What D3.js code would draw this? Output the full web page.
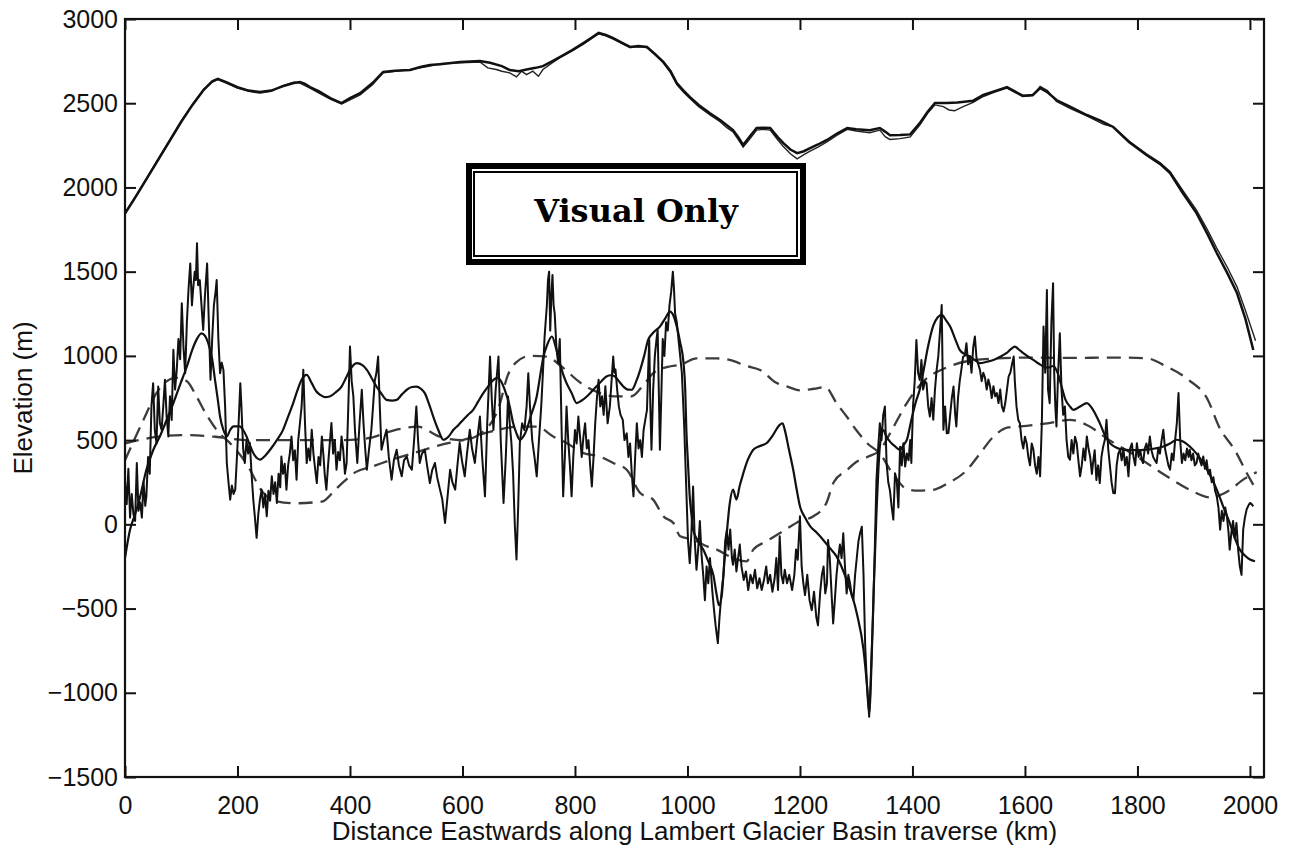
<!DOCTYPE html>
<html>
<head>
<meta charset="utf-8">
<script src="https://cdn.jsdelivr.net/npm/d3@7"></script>
<style>
  body { margin: 0; background: #fff; }
  .chart text { font-family: "Liberation Sans", Arial, Helvetica, sans-serif; fill: #111; }
</style>
</head>
<body>
<div class="chart"></div>
<script>
// Lambert Glacier Basin traverse profile

// x tick labels (km) and y tick labels (m)
var xTicks = [0, 200, 400, 600, 800, 1000, 1200, 1400, 1600, 1800, 2000];
var yTicks = [-1500, -1000, -500, 0, 500, 1000, 1500, 2000, 2500, 3000];

// ice surface elevation, [km, m] (heavy line)
var surfaceA = [
  [0,1845],[20,1950],[40,2060],[60,2170],[80,2280],[100,2390],[120,2490],[140,2580],[155,2630],[165,2645],
  [180,2625],[200,2595],[220,2575],[240,2567],[260,2575],[280,2600],[300,2620],[311,2626],[320,2615],[329,2596],
  [345,2570],[365,2530],[385,2501],[400,2530],[418,2560],[440,2620],[459,2686],[480,2693],[507,2697],[525,2715],
  [542,2727],[560,2732],[596,2745],[631,2751],[649,2740],[670,2720],[684,2697],[700,2690],[714,2700],[730,2710],
  [743,2720],[760,2750],[773,2774],[795,2815],[815,2857],[830,2890],[842,2917],[855,2905],[868,2887],[883,2860],
  [898,2834],[913,2840],[928,2834],[943,2790],[957,2745],[970,2690],[981,2620],[993,2575],[1004,2537],[1020,2490],
  [1040,2440],[1058,2400],[1070,2370],[1081,2341],[1090,2300],[1099,2252],[1110,2300],[1123,2353],[1135,2355],[1147,2353],
  [1160,2300],[1170,2264],[1183,2225],[1195,2204],[1207,2215],[1218,2234],[1232,2255],[1248,2282],[1266,2320],[1284,2353],
  [1300,2345],[1324,2340],[1342,2353],[1352,2330],[1360,2310],[1378,2311],[1396,2315],[1413,2382],[1427,2450],[1440,2501],
  [1461,2501],[1480,2505],[1508,2515],[1526,2549],[1545,2570],[1568,2596],[1582,2570],[1596,2545],[1614,2549],[1627,2590],
  [1640,2565],[1656,2519],[1680,2480],[1710,2430],[1735,2395],[1757,2359],[1785,2270],[1816,2193],[1840,2140],[1858,2086],
  [1880,1970],[1905,1848],[1925,1720],[1941,1611],[1960,1490],[1977,1373],[1992,1220],[2006,1035]
];

// ice surface elevation, second profile (thin line)
var surfaceB = [
  [0,1850],[20,1955],[40,2065],[60,2175],[80,2285],[100,2395],[120,2495],[140,2585],[155,2625],[165,2640],
  [180,2620],[200,2590],[220,2570],[240,2560],[260,2570],[280,2605],[300,2625],[311,2620],[320,2605],[329,2590],
  [345,2560],[365,2525],[385,2495],[400,2520],[418,2550],[440,2610],[459,2680],[480,2690],[507,2700],[525,2710],
  [542,2720],[560,2735],[596,2740],[631,2745],[645,2710],[660,2700],[670,2690],[684,2680],[696,2656],[705,2690],
  [714,2670],[725,2690],[735,2660],[743,2700],[760,2740],[773,2770],[795,2810],[815,2850],[830,2885],[842,2912],
  [855,2900],[868,2880],[883,2855],[898,2830],[913,2835],[928,2830],[943,2785],[957,2740],[970,2680],[981,2610],
  [993,2565],[1004,2530],[1020,2480],[1040,2430],[1058,2390],[1070,2355],[1081,2330],[1090,2285],[1099,2240],[1110,2285],
  [1123,2340],[1135,2345],[1147,2340],[1160,2285],[1170,2245],[1183,2200],[1195,2170],[1207,2195],[1218,2215],[1232,2240],
  [1248,2270],[1266,2310],[1284,2345],[1300,2335],[1324,2325],[1342,2340],[1352,2300],[1360,2285],[1378,2290],[1396,2300],
  [1413,2370],[1427,2440],[1440,2490],[1455,2480],[1465,2460],[1475,2455],[1490,2480],[1508,2505],[1526,2540],[1545,2565],
  [1568,2590],[1582,2565],[1596,2540],[1614,2545],[1627,2600],[1640,2575],[1656,2510],[1680,2470],[1710,2425],[1725,2400],
  [1740,2375],[1757,2360],[1785,2275],[1816,2200],[1840,2148],[1858,2095],[1880,1985],[1905,1865],[1925,1745],[1941,1640],
  [1960,1525],[1977,1410],[1992,1270],[2010,1090]
];

// bedrock elevation from radar, [km, m] (noisy line)
var bedRadar = [
  [0,260],[3,120],[6,330],[9,40],[12,180],[15,60],[18,20],[21,364],[24,80],[27,130],[30,40],[33,250],[36,110],[38,166],
  [41,400],[44,300],[47,700],[50,838],[53,560],[56,480],[59,818],[62,600],[65,561],[68,700],[71,858],[74,640],[77,522],
  [80,760],[83,620],[86,1036],[89,800],[92,917],[95,1100],[98,980],[101,1312],[104,1050],[107,897],[110,1200],[113,1400],
  [116,1549],[119,1300],[121,1391],[124,1500],[126,1450],[128,1668],[130,1420],[133,1450],[136,1300],[139,1154],[142,1350],
  [146,1549],[149,1200],[152,858],[155,1100],[158,1300],[161,1380],[163,1450],[166,1100],[169,897],[172,960],[175,917],
  [178,700],[181,364],[184,250],[187,146],[190,230],[193,180],[196,206],[199,400],[202,600],[205,838],[207,700],[210,450],
  [213,364],[216,500],[219,420],[222,483],[225,300],[228,150],[231,40],[234,-80],[237,60],[240,150],[243,206],[246,100],
  [249,180],[252,48],[255,200],[258,140],[261,285],[264,180],[267,250],[270,127],[273,300],[276,220],[278,403],[281,300],
  [284,360],[287,206],[290,350],[293,420],[296,522],[299,380],[302,440],[305,265],[308,500],[311,600],[314,700],[317,917],
  [320,600],[323,364],[326,450],[329,380],[332,561],[335,420],[338,330],[341,245],[344,400],[347,350],[350,522],[353,400],
  [355,300],[358,206],[361,350],[364,480],[367,601],[370,420],[373,500],[376,324],[379,430],[382,380],[385,522],[388,440],
  [391,300],[394,364],[397,700],[400,1055],[403,850],[406,759],[409,550],[413,364],[417,600],[421,799],[424,600],[427,450],
  [430,324],[434,450],[438,561],[441,700],[444,850],[447,900],[450,996],[453,700],[456,443],[460,500],[465,561],[469,400],
  [474,265],[478,380],[483,443],[487,350],[492,285],[496,380],[501,403],[505,350],[510,324],[514,500],[518,700],[521,500],
  [524,364],[528,420],[533,443],[537,350],[542,245],[546,320],[551,364],[555,280],[560,206],[564,150],[569,8],[573,150],
  [578,324],[582,250],[587,206],[591,350],[595,483],[599,380],[604,285],[608,420],[613,561],[617,450],[622,364],[626,500],
  [631,640],[635,400],[640,166],[644,600],[649,996],[652,750],[655,561],[659,800],[664,996],[668,500],[673,127],[677,400],
  [681,759],[684,600],[687,483],[690,300],[693,0],[696,-209],[699,100],[702,483],[706,600],[710,560],[714,700],[717,897],
  [720,700],[724,500],[728,400],[732,285],[736,500],[740,700],[743,900],[746,1115],[750,1300],[752,1450],[754,1500],
  [756,1150],[758,1350],[760,1480],[762,1300],[764,1250],[767,1050],[770,957],[773,1100],[776,600],[779,166],[782,400],
  [785,700],[788,500],[791,350],[794,166],[797,400],[800,560],[803,480],[806,640],[809,520],[812,400],[815,520],[818,600],
  [821,450],[824,500],[827,350],[830,225],[833,400],[836,600],[839,750],[842,858],[845,700],[848,760],[851,650],[854,820],
  [858,600],[862,700],[865,850],[868,996],[870,900],[872,920],[875,800],[878,700],[881,650],[885,620],[888,500],[892,540],
  [895,400],[898,480],[901,300],[904,166],[907,400],[910,600],[913,450],[916,500],[919,400],[922,560],[925,620],[928,680],
  [930,900],[932,1095],[934,700],[936,443],[939,800],[942,1000],[945,1100],[947,1154],[949,800],[951,443],[953,700],
  [956,1100],[959,1000],[962,1200],[965,1150],[968,1300],[971,1380],[974,1500],[976,1400],[978,1250],[981,1200],[984,1100],
  [987,1000],[990,900],[992,750],[994,600],[996,400],[998,200],[1001,-100],[1004,-230],[1007,-50],[1010,225],[1013,-100],
  [1016,-270],[1019,-150],[1022,20],[1025,-180],[1028,-300],[1031,-450],[1034,-250],[1037,-350],[1040,-200],[1044,-390],
  [1047,-500],[1050,-600],[1054,-705],[1057,-550],[1061,-390],[1064,-300],[1067,-100],[1070,-35],[1073,-150],[1076,-31],
  [1079,-200],[1081,-240],[1084,-150],[1087,-280],[1090,-200],[1093,-120],[1096,-250],[1100,-330],[1104,-280],[1108,-390],
  [1112,-300],[1116,-350],[1120,-270],[1124,-380],[1128,-320],[1132,-390],[1136,-330],[1140,-250],[1143,-350],[1147,-300],
  [1151,-400],[1155,-320],[1158,-200],[1161,-390],[1164,-71],[1167,-300],[1170,-350],[1173,-270],[1177,-350],[1181,-300],
  [1186,-390],[1190,-300],[1193,-150],[1196,-210],[1200,48],[1203,-250],[1206,-350],[1209,-420],[1213,-300],[1217,-450],
  [1221,-510],[1225,-400],[1229,-550],[1232,-600],[1236,-400],[1239,-300],[1242,-250],[1245,-410],[1248,-350],[1250,-93],
  [1253,-200],[1256,-400],[1259,-588],[1262,-450],[1265,-300],[1268,-200],[1271,-120],[1274,-200],[1277,-53],[1280,-250],
  [1283,-410],[1286,-300],[1289,-350],[1292,-420],[1295,-449],[1298,-300],[1301,-200],[1304,-100],[1307,-50],[1310,-14],
  [1313,-300],[1316,-726],[1319,-950],[1322,-1080],[1323,-1142],[1325,-1000],[1327,-800],[1330,-528],[1333,-150],[1336,263],
  [1339,450],[1342,600],[1345,500],[1348,650],[1351,699],[1354,362],[1357,250],[1360,200],[1363,105],[1366,28],[1369,303],
  [1372,265],[1375,100],[1378,461],[1381,350],[1384,482],[1387,343],[1390,420],[1393,380],[1396,501],[1398,364],[1401,700],
  [1404,850],[1407,1095],[1410,900],[1413,857],[1416,976],[1419,800],[1422,850],[1425,838],[1428,700],[1431,640],[1434,750],
  [1437,621],[1440,800],[1443,917],[1446,1000],[1449,1150],[1452,1302],[1455,561],[1458,700],[1461,540],[1464,542],[1467,650],
  [1470,750],[1473,818],[1476,650],[1478,581],[1481,750],[1484,850],[1487,920],[1490,996],[1493,1000],[1496,1075],[1499,950],
  [1502,1000],[1505,900],[1508,1050],[1511,1115],[1514,980],[1517,950],[1520,917],[1523,850],[1526,900],[1529,870],[1532,800],
  [1535,860],[1538,818],[1541,750],[1544,820],[1547,760],[1550,779],[1553,720],[1556,800],[1559,700],[1562,670],[1565,720],
  [1568,800],[1571,878],[1574,900],[1577,950],[1580,996],[1582,850],[1585,700],[1588,621],[1591,600],[1594,500],[1597,450],
  [1600,520],[1603,482],[1606,400],[1609,350],[1612,480],[1615,443],[1618,350],[1621,300],[1624,400],[1627,285],[1630,600],
  [1633,1174],[1636,900],[1639,1391],[1641,800],[1644,719],[1647,1200],[1650,1431],[1652,900],[1654,700],[1656,581],[1659,900],
  [1662,1134],[1665,800],[1668,650],[1671,700],[1674,500],[1677,400],[1680,384],[1683,500],[1686,420],[1689,520],[1692,482],
  [1695,380],[1698,285],[1701,350],[1704,450],[1707,380],[1710,522],[1713,450],[1716,400],[1719,300],[1721,364],[1724,440],
  [1727,263],[1730,350],[1733,245],[1736,400],[1739,460],[1742,500],[1745,621],[1748,450],[1751,350],[1754,250],[1757,186],
  [1760,184],[1763,350],[1766,420],[1769,443],[1772,380],[1775,450],[1778,350],[1781,400],[1784,285],[1787,450],[1790,480],
  [1793,400],[1796,350],[1799,482],[1802,400],[1805,440],[1808,380],[1810,364],[1813,450],[1816,480],[1819,420],[1822,522],
  [1825,440],[1828,400],[1831,380],[1834,364],[1837,450],[1840,420],[1843,500],[1846,561],[1849,450],[1852,400],[1855,350],
  [1858,324],[1861,420],[1864,380],[1867,500],[1870,600],[1873,779],[1876,500],[1879,364],[1882,420],[1885,380],[1888,450],
  [1891,400],[1893,443],[1896,380],[1899,420],[1902,350],[1905,364],[1908,420],[1911,380],[1914,350],[1917,403],[1920,330],
  [1923,380],[1926,300],[1929,324],[1932,250],[1935,280],[1938,200],[1941,166],[1944,100],[1947,-31],[1950,80],[1953,20],
  [1956,100],[1959,48],[1962,-50],[1964,-150],[1967,-50],[1970,20],[1973,-80],[1976,8],[1979,-150],[1982,-249],[1985,-300],
  [1988,-31],[1991,40],[1994,87],[1997,110],[2000,127],[2003,120],[2006,107]
];

// smoothed bedrock, [km, m] (solid line)
var bedSmooth = [
  [0,-200],[9,-31],[18,60],[27,166],[38,324],[50,440],[62,522],[74,620],[86,720],[98,830],[110,937],[120,1040],[127,1095],
  [136,1134],[142,1120],[148,1075],[155,980],[160,858],[165,740],[169,640],[175,560],[181,522],[187,560],[193,581],[204,581],
  [210,560],[216,522],[222,470],[228,423],[234,395],[240,384],[250,410],[258,443],[270,500],[281,561],[290,640],[299,720],
  [307,800],[314,858],[323,887],[332,838],[340,790],[347,769],[355,755],[364,759],[375,785],[385,818],[393,870],[400,917],
  [412,957],[422,945],[430,917],[440,860],[447,818],[456,775],[465,739],[475,735],[483,739],[492,770],[501,799],[510,815],
  [518,818],[526,805],[533,779],[540,720],[548,640],[557,560],[566,502],[575,520],[584,561],[593,590],[601,620],[610,650],
  [619,680],[628,730],[637,779],[646,820],[655,858],[662,870],[667,858],[675,800],[684,700],[690,601],[696,540],[702,502],
  [708,520],[714,561],[722,650],[732,759],[738,880],[744,996],[750,1060],[759,1115],[766,1050],[773,957],[779,890],[785,838],
  [794,780],[803,720],[812,735],[821,759],[830,790],[838,818],[847,850],[856,878],[864,885],[871,878],[878,850],[886,818],
  [894,800],[901,799],[909,850],[916,917],[923,1000],[930,1095],[940,1140],[951,1174],[960,1220],[969,1263],[975,1240],
  [981,1174],[987,1080],[993,957],[996,800],[998,561],[1001,360],[1004,166],[1007,60],[1010,-31],[1019,-100],[1028,-150],
  [1037,-220],[1046,-300],[1052,-420],[1056,-480],[1061,-420],[1065,-250],[1070,-50],[1075,120],[1081,206],[1087,147],
  [1093,230],[1099,300],[1105,364],[1111,410],[1117,443],[1129,465],[1141,483],[1152,530],[1164,591],[1169,600],[1173,561],
  [1180,450],[1188,324],[1194,210],[1200,107],[1209,40],[1218,-11],[1230,-50],[1241,-91],[1253,-140],[1265,-190],[1283,-330],
  [1301,-528],[1313,-746],[1319,-950],[1323,-1120],[1327,-850],[1331,-400],[1336,65],[1342,461],[1348,560],[1354,520],
  [1360,491],[1370,460],[1378,441],[1384,470],[1390,501],[1398,620],[1407,738],[1413,800],[1419,900],[1428,1060],[1437,1180],
  [1445,1230],[1452,1243],[1460,1210],[1467,1174],[1476,1100],[1484,1036],[1493,1010],[1502,996],[1511,975],[1520,957],
  [1532,965],[1544,976],[1556,995],[1567,1016],[1575,1040],[1582,1055],[1590,1035],[1597,1016],[1606,995],[1615,976],
  [1624,955],[1633,937],[1641,930],[1650,940],[1658,900],[1665,820],[1672,740],[1680,700],[1686,680],[1698,700],[1710,720],
  [1721,680],[1733,601],[1742,530],[1751,482],[1763,455],[1775,443],[1795,440],[1816,443],[1831,450],[1846,462],[1858,480],
  [1870,502],[1882,490],[1893,462],[1905,420],[1917,364],[1929,290],[1941,206],[1952,110],[1964,8],[1973,-80],[1982,-150],
  [1991,-185],[2000,-209],[2009,-219]
];

// long-wavelength model bedrock, two dashed curves, [km, m]
var modelP = [
  [0,480],[40,510],[100,530],[160,520],[220,500],[300,500],[380,500],[430,510],[480,560],[520,580],[560,520],[600,500],
  [640,560],[665,700],[680,880],[695,960],[720,1000],[750,995],[775,940],[810,840],[840,785],[870,760],[900,760],[920,820],
  [940,900],[965,935],[990,950],[1016,985],[1052,985],[1075,976],[1105,940],[1130,915],[1158,840],[1180,815],[1200,795],
  [1225,805],[1245,815],[1265,720],[1283,640],[1300,560],[1320,480],[1342,420],[1365,300],[1390,210],[1410,200],[1437,205],
  [1461,240],[1496,320],[1520,420],[1544,520],[1570,575],[1603,585],[1640,600],[1680,620],[1710,590],[1750,500],[1800,400],
  [1850,290],[1890,210],[1930,160],[1960,195],[1990,270],[2012,310]
];
var modelQ = [
  [0,380],[30,600],[60,800],[90,870],[110,850],[127,760],[145,650],[163,560],[190,470],[216,360],[245,190],[265,140],
  [300,125],[350,135],[375,210],[388,250],[410,310],[441,345],[480,390],[520,430],[560,470],[600,500],[650,550],[700,580],
  [732,580],[762,520],[785,483],[815,423],[844,403],[868,364],[892,324],[916,186],[939,147],[957,48],[975,8],[987,-71],
  [1010,-91],[1034,-130],[1052,-150],[1081,-200],[1105,-220],[1117,-150],[1141,-100],[1170,-40],[1200,20],[1224,48],
  [1247,127],[1260,250],[1283,320],[1300,370],[1320,400],[1342,440],[1365,570],[1390,720],[1420,850],[1460,930],[1500,970],
  [1550,985],[1600,990],[1680,988],[1760,990],[1816,986],[1850,940],[1890,860],[1925,740],[1945,580],[1975,430],[1995,300],
  [2012,200]
];

var svgWidth = 1289;
var svgHeight = 848;

var margin = { top: 19, right: 25, bottom: 71, left: 125 };

var width = svgWidth - margin.left - margin.right;
var height = svgHeight - margin.top - margin.bottom;

var svg = d3.select(".chart")
  .append("svg")
  .attr("width", svgWidth)
  .attr("height", svgHeight);

var chartGroup = svg.append("g")
  .attr("transform", `translate(${margin.left}, ${margin.top})`);

// scales
var xScale = d3.scaleLinear().domain([0, 2025]).range([0, width]);
var yScale = d3.scaleLinear().domain([-1500, 3000]).range([height, 0]);

// clip the profiles to the axes box
svg.append("defs").append("clipPath")
  .attr("id", "plotClip")
  .append("rect")
  .attr("width", width)
  .attr("height", height);

var lineGen = d3.line()
  .x(d => xScale(d[0]))
  .y(d => yScale(d[1]));

var smoothGen = d3.line()
  .x(d => xScale(d[0]))
  .y(d => yScale(d[1]))
  .curve(d3.curveMonotoneX);

var plot = chartGroup.append("g").attr("clip-path", "url(#plotClip)");

// dashed model curves
[modelP, modelQ].forEach(function(series) {
  plot.append("path")
    .datum(series)
    .attr("d", smoothGen)
    .attr("fill", "none")
    .attr("stroke", "#3c3c3c")
    .attr("stroke-width", 2.3)
    .attr("stroke-dasharray", "14,8");
});

// radar bedrock
plot.append("path")
  .datum(bedRadar)
  .attr("d", lineGen)
  .attr("fill", "none")
  .attr("stroke", "#111")
  .attr("stroke-width", 2)
  .attr("stroke-linejoin", "round");

// smoothed bedrock
plot.append("path")
  .datum(bedSmooth)
  .attr("d", smoothGen)
  .attr("fill", "none")
  .attr("stroke", "#111")
  .attr("stroke-width", 2.2);

// ice surface
plot.append("path")
  .datum(surfaceB)
  .attr("d", lineGen)
  .attr("fill", "none")
  .attr("stroke", "#222")
  .attr("stroke-width", 1.4);

plot.append("path")
  .datum(surfaceA)
  .attr("d", lineGen)
  .attr("fill", "none")
  .attr("stroke", "#111")
  .attr("stroke-width", 2.5);

// axes: ticks point inward on all four sides
var bottomAxis = d3.axisBottom(xScale).tickValues(xTicks).tickSizeInner(-11).tickSizeOuter(0).tickPadding(19)
  .tickFormat(d3.format("d"));
var topAxis = d3.axisTop(xScale).tickValues(xTicks).tickSizeInner(-11).tickSizeOuter(0).tickFormat("");
var leftAxis = d3.axisLeft(yScale).tickValues(yTicks).tickSizeInner(-11).tickSizeOuter(0).tickPadding(7)
  .tickFormat(d => d < 0 ? "\u2212" + Math.abs(d) : String(d));
var rightAxis = d3.axisRight(yScale).tickValues(yTicks).tickSizeInner(-11).tickSizeOuter(0).tickFormat("");

var xAxis = chartGroup.append("g").attr("transform", `translate(0, ${height})`).call(bottomAxis);
chartGroup.append("g").call(topAxis);
var yAxis = chartGroup.append("g").call(leftAxis);
chartGroup.append("g").attr("transform", `translate(${width}, 0)`).call(rightAxis);

chartGroup.selectAll(".domain").remove();
chartGroup.selectAll(".tick line").attr("stroke", "#111").attr("stroke-width", 2);

xAxis.selectAll("text").style("font-size", "25px");
yAxis.selectAll("text").style("font-size", "25px");

// axes box
chartGroup.append("rect")
  .attr("width", width)
  .attr("height", height)
  .attr("fill", "none")
  .attr("stroke", "#111")
  .attr("stroke-width", 2.2);

// axis titles
svg.append("text")
  .attr("x", margin.left + width / 2)
  .attr("y", 840)
  .attr("text-anchor", "middle")
  .style("font-size", "26px")
  .text("Distance Eastwards along Lambert Glacier Basin traverse (km)");

svg.append("text")
  .attr("transform", `translate(32, ${margin.top + height / 2}) rotate(-90)`)
  .attr("text-anchor", "middle")
  .style("font-size", "26px")
  .text("Elevation (m)");

// "Visual Only" stamp
var stamp = svg.append("g");
stamp.append("rect")
  .attr("x", 469).attr("y", 166).attr("width", 334).attr("height", 96)
  .attr("fill", "#fff").attr("stroke", "#000").attr("stroke-width", 6);
stamp.append("rect")
  .attr("x", 474).attr("y", 172).attr("width", 323).attr("height", 84)
  .attr("fill", "none").attr("stroke", "#000").attr("stroke-width", 2);
stamp.append("text")
  .attr("x", 636).attr("y", 222)
  .attr("text-anchor", "middle")
  .style("font-family", "'DejaVu Serif', 'Liberation Serif', serif")
  .style("font-weight", "bold")
  .style("font-size", "32px")
  .style("fill", "#000")
  .text("Visual Only");
</script>
</body>
</html>
